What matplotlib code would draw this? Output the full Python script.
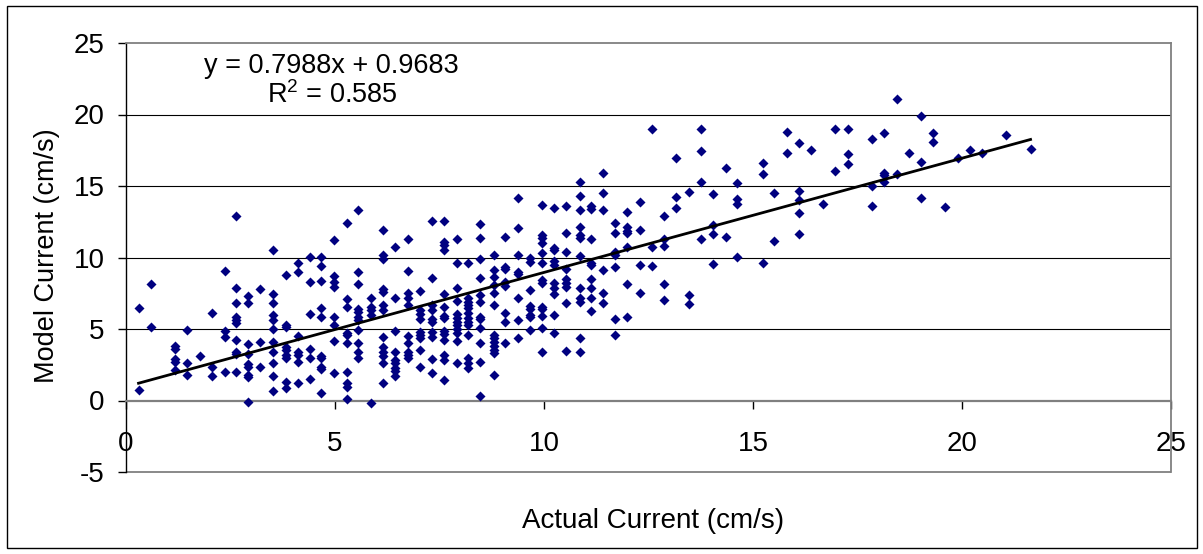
import matplotlib
matplotlib.use("Agg")
import matplotlib.pyplot as plt
from matplotlib.patches import Rectangle
import numpy as np

plt.rcParams['font.family'] = ['Liberation Sans', 'DejaVu Sans']
plt.rcParams['axes.unicode_minus'] = False
plt.rcParams['mathtext.fontset'] = 'custom'
plt.rcParams['mathtext.rm'] = 'Liberation Sans'
plt.rcParams['mathtext.it'] = 'Liberation Sans'
plt.rcParams['mathtext.default'] = 'rm'

# actual current columns (cm/s) and the model values read at each of them
col_x = [0.30, 0.59, 1.17, 1.47, 1.77, 2.06, 2.36, 2.63, 2.93, 3.21, 3.51, 3.82,
         4.11, 4.40, 4.67, 4.98, 5.28, 5.56, 5.86, 6.14, 6.44, 6.75, 7.03, 7.33,
         7.61, 7.91, 8.19, 8.48, 8.80, 9.07, 9.37, 9.66, 9.96, 10.25, 10.53, 10.85,
         11.12, 11.42, 11.71, 11.99, 12.30, 12.58, 12.88, 13.16, 13.46, 13.76, 14.04,
         14.35, 14.62, 15.23, 15.50, 15.81, 16.09, 16.39, 16.68, 16.97, 17.27, 17.85,
         18.13, 18.45, 18.74, 19.01, 19.31, 19.59, 19.90, 20.20, 20.48, 21.05, 21.64]
col_y = [
    [6.49, 0.70],
    [8.15, 5.17],
    [3.8, 3.6, 2.9, 2.7, 2.1],
    [4.93, 2.6, 1.79],
    [3.1],
    [6.15, 2.37, 1.68],
    [9.05, 4.86, 4.47, 1.96],
    [12.92, 7.84, 6.84, 5.87, 5.63, 5.45, 4.24, 3.42, 3.24, 1.96],
    [7.31, 6.84, 3.96, 3.26, 2.54, 2.37, 1.79, 1.63, -0.12],
    [7.77, 4.07, 2.37],
    [10.52, 7.45, 6.84, 5.98, 5.63, 4.98, 4.12, 3.42, 2.6, 1.68, 0.63],
    [8.75, 5.28, 5.17, 3.77, 3.54, 3.19, 2.96, 1.3, 0.86],
    [9.59, 9.0, 4.54, 3.42, 3.19, 2.72, 1.21],
    [10.01, 8.29, 6.05, 3.58, 2.96, 1.49],
    [10.06, 9.43, 8.36, 6.49, 5.87, 3.14, 2.96, 2.33, 2.19, 0.51],
    [11.22, 8.71, 8.31, 7.91, 5.87, 5.28, 4.19, 1.91],
    [12.43, 7.08, 6.56, 4.7, 4.59, 4.05, 1.98, 1.21, 0.93, 0.09],
    [13.31, 9.0, 8.15, 6.38, 6.22, 5.87, 5.63, 4.93, 4.0, 3.42, 2.96],
    [7.15, 6.56, 6.33, 5.98, -0.19],
    [11.92, 10.17, 9.87, 7.77, 7.61, 6.68, 6.33, 4.47, 3.77, 3.42, 3.12, 2.6, 1.21],
    [10.75, 7.15, 4.89, 3.42, 2.84, 2.6, 2.26, 2.03, 1.72],
    [11.27, 9.08, 7.5, 7.15, 6.68, 4.52, 4.0, 3.42, 3.19, 2.96],
    [7.68, 6.33, 6.05, 5.68, 4.82, 4.59, 4.35, 3.54, 2.37],
    [12.57, 8.54, 6.68, 6.33, 5.68, 5.52, 4.82, 4.47, 2.89, 1.91],
    [12.55, 11.1, 10.87, 10.52, 7.45, 6.56, 5.91, 5.75, 4.89, 4.63, 4.24, 3.19, 2.84, 1.4],
    [11.27, 9.64, 7.84, 6.98, 6.05, 5.75, 5.52, 5.28, 4.98, 4.7, 4.17, 2.65],
    [9.64, 7.15, 6.91, 6.68, 6.45, 6.15, 5.75, 5.52, 5.28, 4.59, 2.96, 2.65, 2.26],
    [12.34, 11.34, 9.87, 8.54, 7.38, 6.91, 5.87, 5.68, 5.05, 4.0, 2.72, 0.28],
    [10.17, 9.12, 8.61, 8.08, 7.5, 6.68, 4.59, 4.35, 4.12, 3.82, 3.54, 3.31, 1.79],
    [11.45, 9.36, 9.17, 8.31, 8.01, 6.15, 5.52, 4.0],
    [14.13, 12.03, 10.17, 9.0, 8.85, 7.15, 5.63, 4.35],
    [9.94, 9.71, 7.73, 6.61, 6.38, 5.98, 5.87, 4.93],
    [13.66, 11.57, 11.34, 11.03, 10.29, 9.59, 8.43, 8.24, 6.56, 6.38, 5.91, 5.05, 3.42],
    [13.43, 10.64, 10.52, 9.78, 9.47, 8.19, 7.84, 7.45, 5.98, 4.7],
    [13.59, 11.73, 10.4, 9.17, 8.47, 8.19, 7.96, 6.84, 3.49],
    [15.29, 14.29, 13.31, 12.15, 11.57, 11.34, 10.1, 7.84, 7.15, 6.91, 4.35, 3.42],
    [13.59, 13.36, 11.27, 9.59, 9.47, 8.47, 7.84, 7.15, 6.28],
    [15.88, 14.53, 13.31, 9.12, 7.5, 6.84],
    [12.43, 11.69, 10.4, 10.17, 9.36, 5.68, 4.59],
    [13.2, 12.1, 11.87, 11.69, 10.75, 8.15, 5.82],
    [13.85, 11.95, 9.45, 7.55],
    [18.97, 10.75, 9.43],
    [12.9, 11.27, 10.82, 8.15, 7.03],
    [16.93, 14.2, 13.43],
    [14.6, 7.38, 6.75],
    [18.97, 17.44, 15.3, 11.27],
    [14.41, 12.27, 11.64, 9.55],
    [16.23, 11.45],
    [15.18, 14.06, 13.74, 10.06],
    [16.62, 15.83, 9.64],
    [14.53, 11.15],
    [18.79, 17.32],
    [18.02, 14.64, 14.02, 13.13, 11.64],
    [17.51],
    [13.74],
    [18.97, 16.02],
    [18.97, 17.23, 16.53],
    [18.27, 15.0, 13.62],
    [18.72, 15.92, 15.76, 15.3],
    [21.05, 15.83],
    [17.32],
    [19.9, 16.69, 14.13],
    [18.72, 18.09],
    [13.53],
    [16.93],
    [17.53],
    [17.3],
    [18.6],
    [17.62],
]

slope = 0.7988
intercept = 0.9683

actual = np.concatenate([[x] * len(ys) for x, ys in zip(col_x, col_y)])
model = np.concatenate(col_y)

fig = plt.figure(figsize=(12.03, 5.54), dpi=100)
ax = fig.add_axes([126 / 1203, 82 / 554, 1045 / 1203, 429 / 554])

ax.set_xlim(0, 25)
ax.set_ylim(-5, 25)

# horizontal gridlines only, excel style
for g in range(5, 25, 5):
    ax.axhline(g, color='black', lw=0.8, zorder=1)

ax.scatter(actual, model, marker='D', s=26, color='#000080', linewidths=0, zorder=3)

# linear trendline over the data range
tx = np.array([actual.min(), actual.max()])
ax.plot(tx, slope * tx + intercept, color='black', lw=2.0, zorder=4)

# plot area frame
for s in ['top', 'right']:
    ax.spines[s].set_color('#808080')
    ax.spines[s].set_linewidth(1.3)
ax.spines['left'].set_color('black')
ax.spines['left'].set_linewidth(1.0)
ax.spines['bottom'].set_position(('data', 0))
ax.spines['bottom'].set_color('#808080')
ax.spines['bottom'].set_linewidth(1.6)
ax.add_patch(Rectangle((0, 0), 1, 0, transform=ax.transAxes, fill=False,
                       edgecolor='#808080', lw=1.3, clip_on=False))

ax.set_xticks(range(0, 26, 5))
ax.set_yticks(range(-5, 26, 5))
ax.tick_params(axis='x', direction='out', length=6, width=1, color='black',
               pad=16, labelsize=20)
ax.tick_params(axis='y', direction='out', length=6, width=1, color='black',
               pad=9.5, labelsize=20)

ax.text(0.1967, 0.9294, 'y = 0.7988x + 0.9683', transform=ax.transAxes,
        ha='center', va='baseline', fontsize=19.5)
ax.text(0.1976, 0.8608, 'R$^{2}$ = 0.585', transform=ax.transAxes,
        ha='center', va='baseline', fontsize=19.5)

fig.text(653 / 1203, 1 - 527.7 / 554, 'Actual Current (cm/s)', ha='center',
         va='baseline', fontsize=20)
fig.text(47.5 / 1203, 1 - 256 / 554, 'Model Current (cm/s)', ha='center',
         va='center', rotation=90, fontsize=19.5)

# outer chart border
fig.patches.append(Rectangle((7 / 1203, 6 / 554), 1190 / 1203, 542 / 554,
                             transform=fig.transFigure, fill=False,
                             edgecolor='black', lw=1.0))

fig.savefig('out.png', dpi=100)
